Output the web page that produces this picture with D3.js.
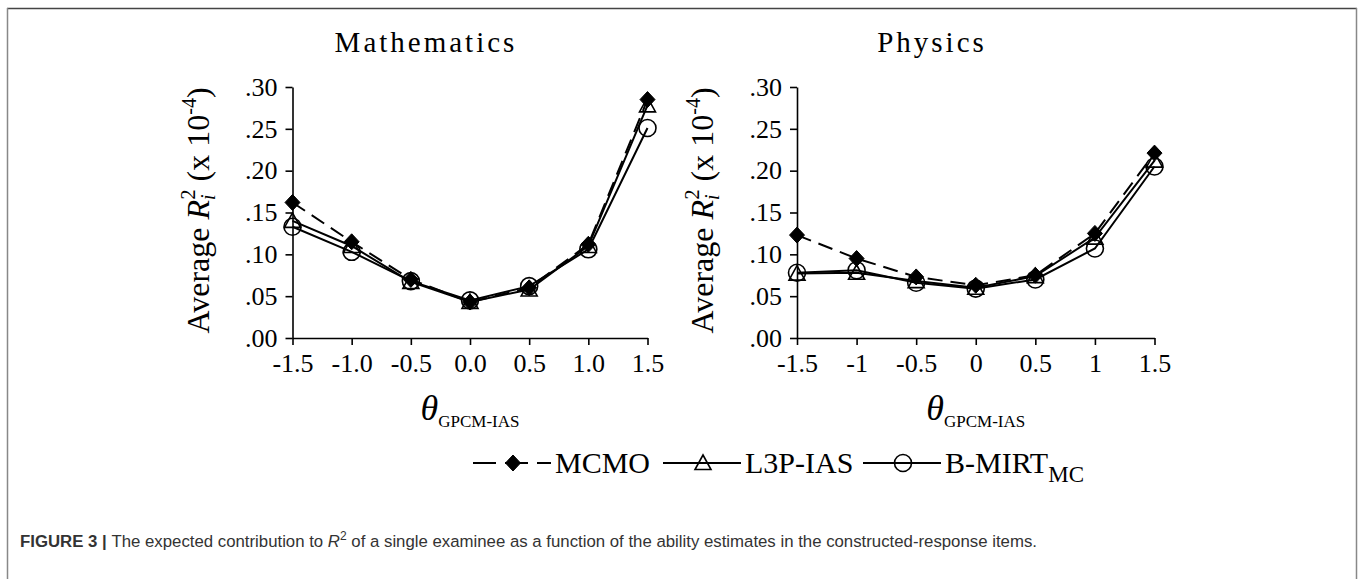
<!DOCTYPE html>
<html>
<head>
<meta charset="utf-8">
<script src="https://cdn.jsdelivr.net/npm/d3@7"></script>
<style>
  body { margin: 0; background: #fff; }
  svg { display: block; }
  .axis path, .axis line { stroke: #000; stroke-width: 1.6; }
  .axis text { font-family: "Liberation Serif", "Times New Roman", serif; font-size: 26px; fill: #000; }
</style>
</head>
<body>
<div id="chart"></div>
<script>
// x positions (theta) and tick labels
const thetas = [-1.5, -1.0, -0.5, 0.0, 0.5, 1.0, 1.5];
const mathTickLabels = ["-1.5", "-1.0", "-0.5", "0.0", "0.5", "1.0", "1.5"];
const physTickLabels = ["-1.5", "-1", "-0.5", "0", "0.5", "1", "1.5"];
const yTickValues = [0, 0.05, 0.10, 0.15, 0.20, 0.25, 0.30];
const yTickLabels = [".00", ".05", ".10", ".15", ".20", ".25", ".30"];

// Mathematics
const mathMCMO = [0.162, 0.115, 0.070, 0.043, 0.060, 0.112, 0.285];
const mathL3P  = [0.140, 0.110, 0.067, 0.043, 0.058, 0.110, 0.278];
const mathBMIRT = [0.133, 0.103, 0.068, 0.045, 0.062, 0.106, 0.251];

// Physics
const physMCMO = [0.123, 0.095, 0.073, 0.063, 0.075, 0.125, 0.221];
const physL3P  = [0.077, 0.078, 0.068, 0.060, 0.074, 0.120, 0.212];
const physBMIRT = [0.078, 0.081, 0.066, 0.059, 0.070, 0.107, 0.205];

const seriesNames = ["MCMO", "L3P-IAS", "B-MIRT"];

const SERIF = "'Liberation Serif', 'Times New Roman', serif";
const W = 1360, H = 579;

const svg = d3.select("#chart").append("svg")
    .attr("width", W)
    .attr("height", H);

// outer frame
svg.append("line").attr("x1", 7).attr("x2", 1357).attr("y1", 8.5).attr("y2", 8.5)
    .attr("stroke", "#444").attr("stroke-width", 1.5);
svg.append("line").attr("x1", 7.5).attr("x2", 7.5).attr("y1", 8).attr("y2", H)
    .attr("stroke", "#888").attr("stroke-width", 1.5);
svg.append("line").attr("x1", 1356.5).attr("x2", 1356.5).attr("y1", 8).attr("y2", H)
    .attr("stroke", "#888").attr("stroke-width", 1.5);

function marker(sel, type) {
  if (type === "MCMO") {
    sel.append("path").attr("d", "M0,-8L7.5,0L0,8L-7.5,0Z")
      .attr("fill", "#000").attr("stroke", "#000").attr("stroke-width", 1);
  } else if (type === "L3P-IAS") {
    sel.append("path").attr("d", "M0,-8L8,6.5L-8,6.5Z")
      .attr("fill", "none").attr("stroke", "#000").attr("stroke-width", 1.6);
  } else {
    sel.append("circle").attr("r", 8.5)
      .attr("fill", "none").attr("stroke", "#000").attr("stroke-width", 1.6);
  }
}

function drawPanel(opts) {
  const x = d3.scaleLinear().domain([-1.5, 1.5]).range(opts.xRange);
  const y = d3.scaleLinear().domain([0, 0.30]).range([338, 87]);
  const g = svg.append("g");

  g.append("g")
    .attr("class", "axis")
    .attr("transform", `translate(0,${y(0)})`)
    .call(d3.axisBottom(x).tickValues(thetas).tickSize(7).tickSizeOuter(0)
      .tickPadding(9)
      .tickFormat((d, i) => opts.tickLabels[i]));

  g.append("g")
    .attr("class", "axis")
    .attr("transform", `translate(${x(-1.5)},0)`)
    .call(d3.axisLeft(y).tickValues(yTickValues).tickSize(7).tickSizeOuter(0)
      .tickPadding(8)
      .tickFormat((d, i) => yTickLabels[i]));

  const line = d3.line()
    .x((d, i) => x(thetas[i]))
    .y(d => y(d));

  // circle series first, then triangle, diamond on top
  const order = [
    {name: "B-MIRT", values: opts.bmirt, dash: null},
    {name: "L3P-IAS", values: opts.l3p, dash: null},
    {name: "MCMO", values: opts.mcmo, dash: "15,8"}
  ];

  order.forEach(s => {
    g.append("path")
      .datum(s.values)
      .attr("fill", "none")
      .attr("stroke", "#000")
      .attr("stroke-width", 2)
      .attr("stroke-dasharray", s.dash)
      .attr("d", line);
  });

  order.forEach(s => {
    g.selectAll(null)
      .data(s.values)
      .enter().append("g")
      .attr("transform", (d, i) => `translate(${x(thetas[i])},${y(d)})`)
      .each(function() { marker(d3.select(this), s.name); });
  });

  // title
  g.append("text")
    .attr("font-family", SERIF)
    .attr("x", opts.titleX)
    .attr("y", 52)
    .attr("text-anchor", "middle")
    .attr("font-size", 29)
    .attr("letter-spacing", 3)
    .text(opts.title);

  // y label
  const yl = g.append("text")
    .attr("font-family", SERIF)
    .attr("transform", `translate(${x(-1.5) - 84},${(y(0) + y(0.3)) / 2 - 2}) rotate(-90)`)
    .attr("text-anchor", "middle")
    .attr("font-size", 32);
  yl.append("tspan").text("Average ");
  yl.append("tspan").attr("font-style", "italic").text("R");
  yl.append("tspan").attr("font-style", "italic").attr("font-size", 20).attr("dy", 6).text("i");
  yl.append("tspan").attr("font-size", 20).attr("dx", -5).attr("dy", -20).text("2");
  yl.append("tspan").attr("dy", 14).text(" (x 10");
  yl.append("tspan").attr("font-size", 20).attr("dy", -13).text("-4");
  yl.append("tspan").attr("dy", 13).text(")");

  // x label
  const cx = (opts.xRange[0] + opts.xRange[1]) / 2;
  const xl = g.append("text")
    .attr("font-family", SERIF)
    .attr("x", cx)
    .attr("y", 420)
    .attr("text-anchor", "middle")
    .attr("font-size", 36);
  xl.append("tspan").attr("font-style", "italic").text("θ");
  xl.append("tspan").attr("font-size", 17).attr("dy", 7).text("GPCM-IAS");
}

drawPanel({
  title: "Mathematics", titleX: 426, xRange: [292.5, 647.5],
  tickLabels: mathTickLabels, mcmo: mathMCMO, l3p: mathL3P, bmirt: mathBMIRT
});
drawPanel({
  title: "Physics", titleX: 932, xRange: [797, 1154.5],
  tickLabels: physTickLabels, mcmo: physMCMO, l3p: physL3P, bmirt: physBMIRT
});

// legend
const legendX = [473, 663, 863];
const legend = svg.append("g").attr("transform", "translate(0,463)");
seriesNames.forEach((name, i) => {
  const lg = legend.append("g").attr("transform", `translate(${legendX[i]},0)`);
  lg.append("line")
    .attr("x1", 0).attr("x2", 78)
    .attr("stroke", "#000").attr("stroke-width", 2)
    .attr("stroke-dasharray", name === "MCMO" ? "23,9" : null);
  const m = lg.append("g").attr("transform", "translate(40,0)");
  marker(m, name);
  const t = lg.append("text")
    .attr("font-family", SERIF)
    .attr("x", 82)
    .attr("y", 10)
    .attr("font-size", 30)
    .text(name);
  if (name === "B-MIRT") {
    t.append("tspan").attr("font-size", 23).attr("dy", 9).text("MC");
  }
});

// caption
const cap = svg.append("text")
  .attr("x", 20)
  .attr("y", 547)
  .attr("font-family", "'Liberation Sans', Arial, sans-serif")
  .attr("font-size", 16.8)
  .attr("fill", "#333");
cap.append("tspan").attr("font-weight", "bold").text("FIGURE 3 | ");
cap.append("tspan").text("The expected contribution to ");
cap.append("tspan").attr("font-style", "italic").text("R");
cap.append("tspan").attr("font-size", 12).attr("dy", -7).text("2");
cap.append("tspan").attr("dy", 7).text(" of a single examinee as a function of the ability estimates in the constructed-response items.");
</script>
</body>
</html>
